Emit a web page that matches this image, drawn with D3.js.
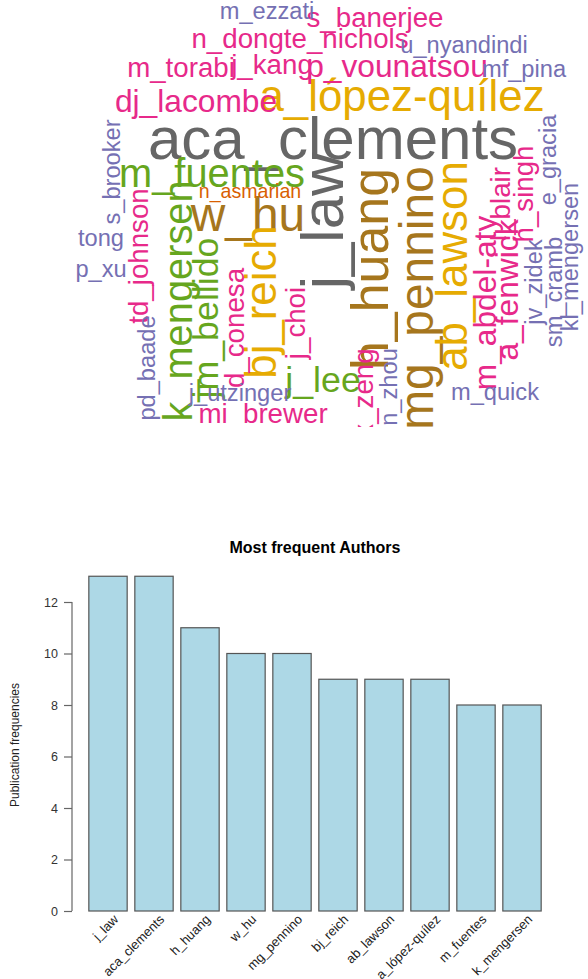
<!DOCTYPE html>
<html lang="en">
<head>
<meta charset="utf-8">
<script src="https://cdn.jsdelivr.net/npm/d3@7"></script>
<style>
  body { margin: 0; background: #fff; }
  text { font-family: "Liberation Sans", Arial, Helvetica, sans-serif; }
</style>
</head>
<body>
<script>
var width = 588;
var height = 979;

// word cloud: author names and how often they appear
var words = ["aca_clements", "j_law", "h_huang", "w_hu", "mg_pennino", "bj_reich", "ab_lawson",
             "a_lópez-quílez", "m_fuentes", "k_mengersen", "jm_bellido", "j_lee", "dj_lacombe",
             "p_vounatsou", "m_abdel-aty", "a_fenwick", "s_banerjee", "n_dongte_nichols", "m_torabi",
             "j_kang", "td_johnson", "d_conesa", "j_choi", "mi_brewer", "l_blair", "h_singh", "x_zeng",
             "u_nyandindi", "mf_pina", "m_ezzati", "s_brooker", "tong", "p_xu", "pd_baade",
             "j_utzinger", "n_zhou", "jv_zidek", "e_gracia", "sm_cramb", "kl_mengersen", "m_quick",
             "n_asmarian"];
var wordFreq = [13, 13, 11, 10, 10, 9, 9,
                9, 8, 8, 7, 7, 6,
                6, 6, 6, 5, 5, 5,
                5, 5, 5, 5, 5, 5, 5, 5,
                4, 4, 4, 4, 4, 4, 4,
                4, 4, 4, 4, 4, 4, 4,
                3];

// where each word was placed: [x, y, rotation] (middle of the baseline)
var cloudLayout = [[333, 159, 0], [343, 221, -90], [388, 269, -90], [248, 231, 0], [433, 298, -90], [276, 302, -90], [467, 266, -90],
                   [402, 111, 0], [212, 187, 0], [192, 301, -90], [218, 318, -90], [323, 392, 0], [196, 112, 0],
                   [397, 77, 0], [496, 303, -90], [518, 290, -90], [375, 27, 0], [300, 48, 0], [181, 77, 0],
                   [272, 74, 0], [148, 256, -90], [244, 328, -90], [305, 323, -90], [263, 423, 0], [510, 204, -90], [533, 194, -90], [373, 393, -90],
                   [464, 53, 0], [524, 77, 0], [267, 19, 0], [120, 172, -90], [101, 246, 0], [101, 277, 0], [155, 368, -90],
                   [240, 401, 0], [397, 387, -90], [542, 282, -90], [556, 160, -90], [562, 292, -90], [578, 257, -90], [495, 400, 0],
                   [250, 198, 0]];

// bar chart
var authors = ["j_law", "aca_clements", "h_huang", "w_hu", "mg_pennino", "bj_reich", "ab_lawson",
               "a_lópez-quílez", "m_fuentes", "k_mengersen"];
var pubCounts = [13, 13, 11, 10, 10, 9, 9, 9, 8, 8];
var yTicks = [0, 2, 4, 6, 8, 10, 12];

var svg = d3.select("body")
            .append("svg")
            .attr("width", width)
            .attr("height", height);

// ---- word cloud ----
var fontSize = d3.scaleLinear().domain([0, 13]).range([7.5, 60]);
var wordColour = d3.scaleQuantize().domain([0, 13]).range(d3.schemeDark2);

// the cloud panel is cut off just under the lowest words
svg.append("clipPath")
   .attr("id", "cloud_clip")
   .append("rect")
   .attr("x", 0).attr("y", 0)
   .attr("width", width).attr("height", 427);

var cloud = svg.append("g").attr("clip-path", "url(#cloud_clip)");
cloud.selectAll("text")
     .data(words)
     .enter()
     .append("text")
     .attr("transform", function (d, i) {
         var p = cloudLayout[i];
         return "translate(" + p[0] + "," + p[1] + ") rotate(" + p[2] + ")";
     })
     .attr("text-anchor", "middle")
     .style("font-size", function (d, i) { return fontSize(wordFreq[i]) + "px"; })
     .style("fill", function (d, i) { return wordColour(wordFreq[i]); })
     .text(function (d) { return d; });

// ---- bar chart ----
var x = d3.scaleBand()
          .domain(authors)
          .range([85, 545])
          .paddingInner(1 / 6)
          .paddingOuter(1 / 12);
var y = d3.scaleLinear().domain([0, 12]).range([911, 602]);

svg.append("text")
   .attr("x", 315)
   .attr("y", 553)
   .attr("text-anchor", "middle")
   .style("font-size", "16px")
   .style("font-weight", "bold")
   .text("Most frequent Authors");

svg.append("g")
   .selectAll("rect")
   .data(pubCounts)
   .enter()
   .append("rect")
   .attr("x", function (d, i) { return x(authors[i]); })
   .attr("y", function (d) { return y(d); })
   .attr("width", x.bandwidth())
   .attr("height", function (d) { return y(0) - y(d); })
   .style("fill", "#add8e6")
   .style("stroke", "#555")
   .style("stroke-width", 1.2);

var yAxis = svg.append("g")
               .attr("transform", "translate(72,0)")
               .call(d3.axisLeft(y).tickValues(yTicks).tickSize(8).tickPadding(6));
yAxis.selectAll("path, line").style("stroke", "#666").style("stroke-width", 1.2);
yAxis.select(".domain").attr("d", "M0," + y(0) + "V" + y(12));
yAxis.selectAll("text")
     .style("font-size", "12.5px")
     .style("fill", "#333")
     .style("font-family", "'Liberation Sans', Arial, sans-serif");

svg.append("text")
   .attr("transform", "translate(19,745) rotate(-90)")
   .attr("text-anchor", "middle")
   .style("font-size", "12px")
   .style("fill", "#222")
   .text("Publication frequencies");

svg.append("g")
   .selectAll("text")
   .data(authors)
   .enter()
   .append("text")
   .attr("transform", function (d) {
       return "translate(" + (x(d) + x.bandwidth() / 2 + 8) + ",917) rotate(-45)";
   })
   .attr("text-anchor", "end")
   .attr("dy", "0.35em")
   .style("font-size", "13px")
   .style("fill", "#222")
   .text(function (d) { return d; });
</script>
</body>
</html>
